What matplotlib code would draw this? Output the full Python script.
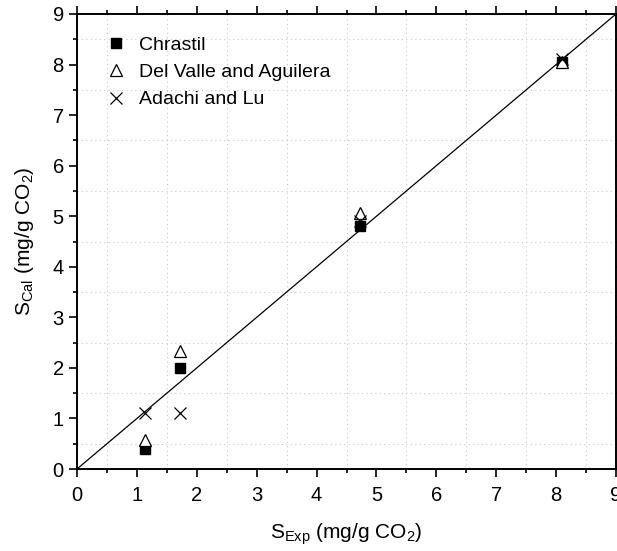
import numpy as np
import matplotlib.pyplot as plt
from matplotlib.ticker import MultipleLocator

plt.rcParams['font.family'] = ['Liberation Sans', 'DejaVu Sans']
plt.rcParams['mathtext.default'] = 'regular'

# data
s_exp = [1.13, 1.72, 4.73, 8.10]
chrastil = [0.40, 2.00, 4.80, 8.05]
del_valle = [0.58, 2.33, 5.07, 8.05]
adachi = [1.10, 1.10, 4.90, 8.10]
diag = [0, 9]

fig = plt.figure(figsize=(6.17, 5.51), dpi=100)
ax = fig.add_axes([0.1248, 0.1488, 0.8736, 0.8258])

ax.plot(diag, diag, color='black', lw=0.9, zorder=2)
ax.plot(s_exp, chrastil, 's', color='black', ms=7, ls='none', label='Chrastil', zorder=3)
ax.plot(s_exp, del_valle, '^', mfc='white', mec='black', mew=0.9, ms=9, ls='none',
        label='Del Valle and Aguilera', zorder=3)
ax.plot(s_exp, adachi, 'x', color='black', mew=0.9, ms=9, ls='none',
        label='Adachi and Lu', zorder=4)

ax.set_xlim(0, 9)
ax.set_ylim(0, 9)
ax.xaxis.set_major_locator(MultipleLocator(1))
ax.yaxis.set_major_locator(MultipleLocator(1))
ax.xaxis.set_minor_locator(MultipleLocator(0.5))
ax.yaxis.set_minor_locator(MultipleLocator(0.5))
ax.grid(which='minor', color='#c8c8c8', ls=(0, (1, 3)), lw=0.8)
ax.tick_params(which='major', direction='out', length=6, width=1.2, labelsize=14.5)
ax.tick_params(axis='x', which='major', pad=6)
ax.tick_params(which='minor', direction='out', length=3, width=1.2)
ax.tick_params(which='both', top=True, right=True)
for sp in ax.spines.values():
    sp.set_linewidth(1.4)

ax.set_xlabel('S$_{Exp}$ (mg/g CO$_2$)', fontsize=15, labelpad=12)
ax.set_ylabel('S$_{Cal}$ (mg/g CO$_2$)', fontsize=15, labelpad=12)

ax.legend(loc='upper left', bbox_to_anchor=(0.018, 0.99), frameon=False, fontsize=14,
          handletextpad=0.6, labelspacing=0.5, handlelength=1.2)

fig.savefig('out.png', dpi=100)
